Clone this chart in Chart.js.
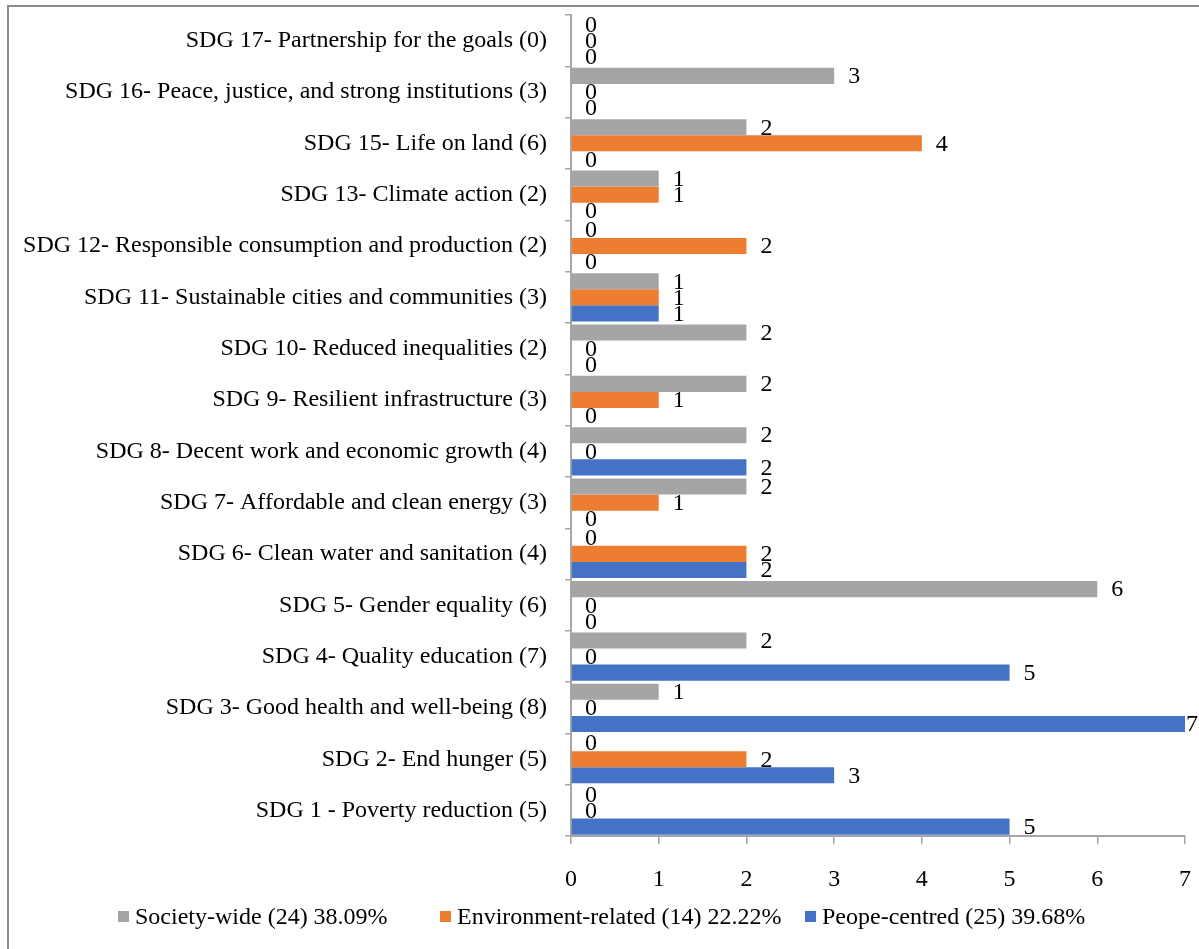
<!DOCTYPE html>
<html lang="en">
<head>
    <meta charset="UTF-8">
    <title>SDG chart</title>
    <script src="https://cdn.jsdelivr.net/npm/chart.js"></script>
    <style>
        html, body { margin: 0; padding: 0; background: #fff; }
        #wrap { width: 1199px; height: 949px; position: relative; }
    </style>
</head>
<body>
    <div id="wrap"><canvas id="sdg-chart"></canvas></div>

    <script>
        // categories, bottom to top
        const categories = [
            'SDG 1 - Poverty reduction (5)',
            'SDG 2- End hunger (5)',
            'SDG 3- Good health and well-being (8)',
            'SDG 4- Quality education (7)',
            'SDG 5- Gender equality (6)',
            'SDG 6- Clean water and sanitation (4)',
            'SDG 7- Affordable and clean energy (3)',
            'SDG 8- Decent work and economic growth (4)',
            'SDG 9- Resilient infrastructure (3)',
            'SDG 10- Reduced inequalities (2)',
            'SDG 11- Sustainable cities and communities (3)',
            'SDG 12- Responsible consumption and production (2)',
            'SDG 13- Climate action (2)',
            'SDG 15- Life on land (6)',
            'SDG 16- Peace, justice, and strong institutions (3)',
            'SDG 17- Partnership for the goals (0)'
        ];
        const societyWide   = [0, 0, 1, 2, 6, 0, 2, 2, 2, 2, 1, 0, 1, 2, 3, 0];
        const environment   = [0, 2, 0, 0, 0, 2, 1, 0, 1, 0, 1, 2, 1, 4, 0, 0];
        const peopleCentred = [5, 3, 7, 5, 0, 2, 0, 2, 0, 0, 1, 0, 0, 0, 0, 0];
        const seriesNames = [
            'Society-wide (24) 38.09%',
            'Environment-related (14) 22.22%',
            'Peope-centred (25) 39.68%'
        ];
        const xMin = 0, xMax = 7, xStep = 1;

        const serif = '"Liberation Serif", "Times New Roman", serif';
        const axisGray = '#a6a6a6';

        // value next to every bar, zeros included
        const valueLabels = {
            id: 'valueLabels',
            afterDatasetsDraw(chart) {
                const ctx = chart.ctx;
                ctx.save();
                ctx.font = '24px ' + serif;
                ctx.fillStyle = '#000';
                ctx.textBaseline = 'middle';
                ctx.textAlign = 'left';
                chart.data.datasets.forEach((ds, i) => {
                    chart.getDatasetMeta(i).data.forEach((bar, j) => {
                        const txt = String(ds.data[j]);
                        const w = ctx.measureText(txt).width;
                        const x = Math.min(bar.x + 14, chart.width - w - 1);
                        ctx.fillText(txt, x, bar.y + 1);
                    });
                });
                ctx.restore();
            }
        };

        // outer frame (top and left edges visible)
        const frame = {
            id: 'frame',
            beforeDraw(chart) {
                const ctx = chart.ctx;
                ctx.save();
                ctx.strokeStyle = '#8c8c8c';
                ctx.lineWidth = 2;
                ctx.beginPath();
                ctx.moveTo(8, chart.height);
                ctx.lineTo(8, 6);
                ctx.lineTo(chart.width, 6);
                ctx.stroke();
                ctx.restore();
            }
        };

        // legend row under the axis, Excel-like spacing
        const legendStarts = [118, 440, 805];
        const bottomLegend = {
            id: 'bottomLegend',
            afterDraw(chart) {
                const ctx = chart.ctx;
                const y = 917;
                ctx.save();
                ctx.font = '24px ' + serif;
                ctx.textBaseline = 'middle';
                ctx.textAlign = 'left';
                chart.data.datasets.forEach((ds, i) => {
                    const x = legendStarts[i];
                    ctx.fillStyle = ds.backgroundColor;
                    ctx.fillRect(x, y - 6, 11, 11);
                    ctx.fillStyle = '#000';
                    ctx.fillText(ds.label, x + 17, y + 1);
                });
                ctx.restore();
            }
        };

        const ctx = document.getElementById('sdg-chart').getContext('2d');
        new Chart(ctx, {
            type: 'bar',
            data: {
                labels: categories,
                datasets: [
                    { label: seriesNames[0], data: societyWide,   backgroundColor: '#a5a5a5' },
                    { label: seriesNames[1], data: environment,   backgroundColor: '#ed7d31' },
                    { label: seriesNames[2], data: peopleCentred, backgroundColor: '#4472c4' }
                ]
            },
            options: {
                indexAxis: 'y',
                responsive: true,
                maintainAspectRatio: false,
                animation: false,
                categoryPercentage: 0.94,
                barPercentage: 1,
                layout: { padding: { left: 0, right: 14, top: 15, bottom: 34 } },
                plugins: {
                    tooltip: { enabled: false },
                    legend: { display: false }
                },
                scales: {
                    y: {
                        reverse: true,
                        afterFit: (scale) => {
                            scale.width = 571;
                            scale.paddingTop = 0;
                            scale.paddingBottom = 0;
                        },
                        grid: {
                            drawOnChartArea: false,
                            offset: true,
                            tickLength: 6,
                            color: axisGray,
                            lineWidth: 1.5
                        },
                        border: { color: axisGray, width: 2 },
                        ticks: {
                            font: { family: serif, size: 24 },
                            color: '#000',
                            padding: 18,
                            autoSkip: false
                        }
                    },
                    x: {
                        min: xMin,
                        max: xMax,
                        afterFit: (scale) => {
                            scale.paddingLeft = 0;
                            scale.paddingRight = 0;
                        },
                        grid: {
                            drawOnChartArea: false,
                            tickLength: 8,
                            color: axisGray,
                            lineWidth: 1.5
                        },
                        border: { color: axisGray, width: 2 },
                        ticks: {
                            stepSize: xStep,
                            font: { family: serif, size: 24 },
                            color: '#000',
                            padding: 21
                        }
                    }
                }
            },
            plugins: [frame, valueLabels, bottomLegend]
        });
    </script>
</body>
</html>
